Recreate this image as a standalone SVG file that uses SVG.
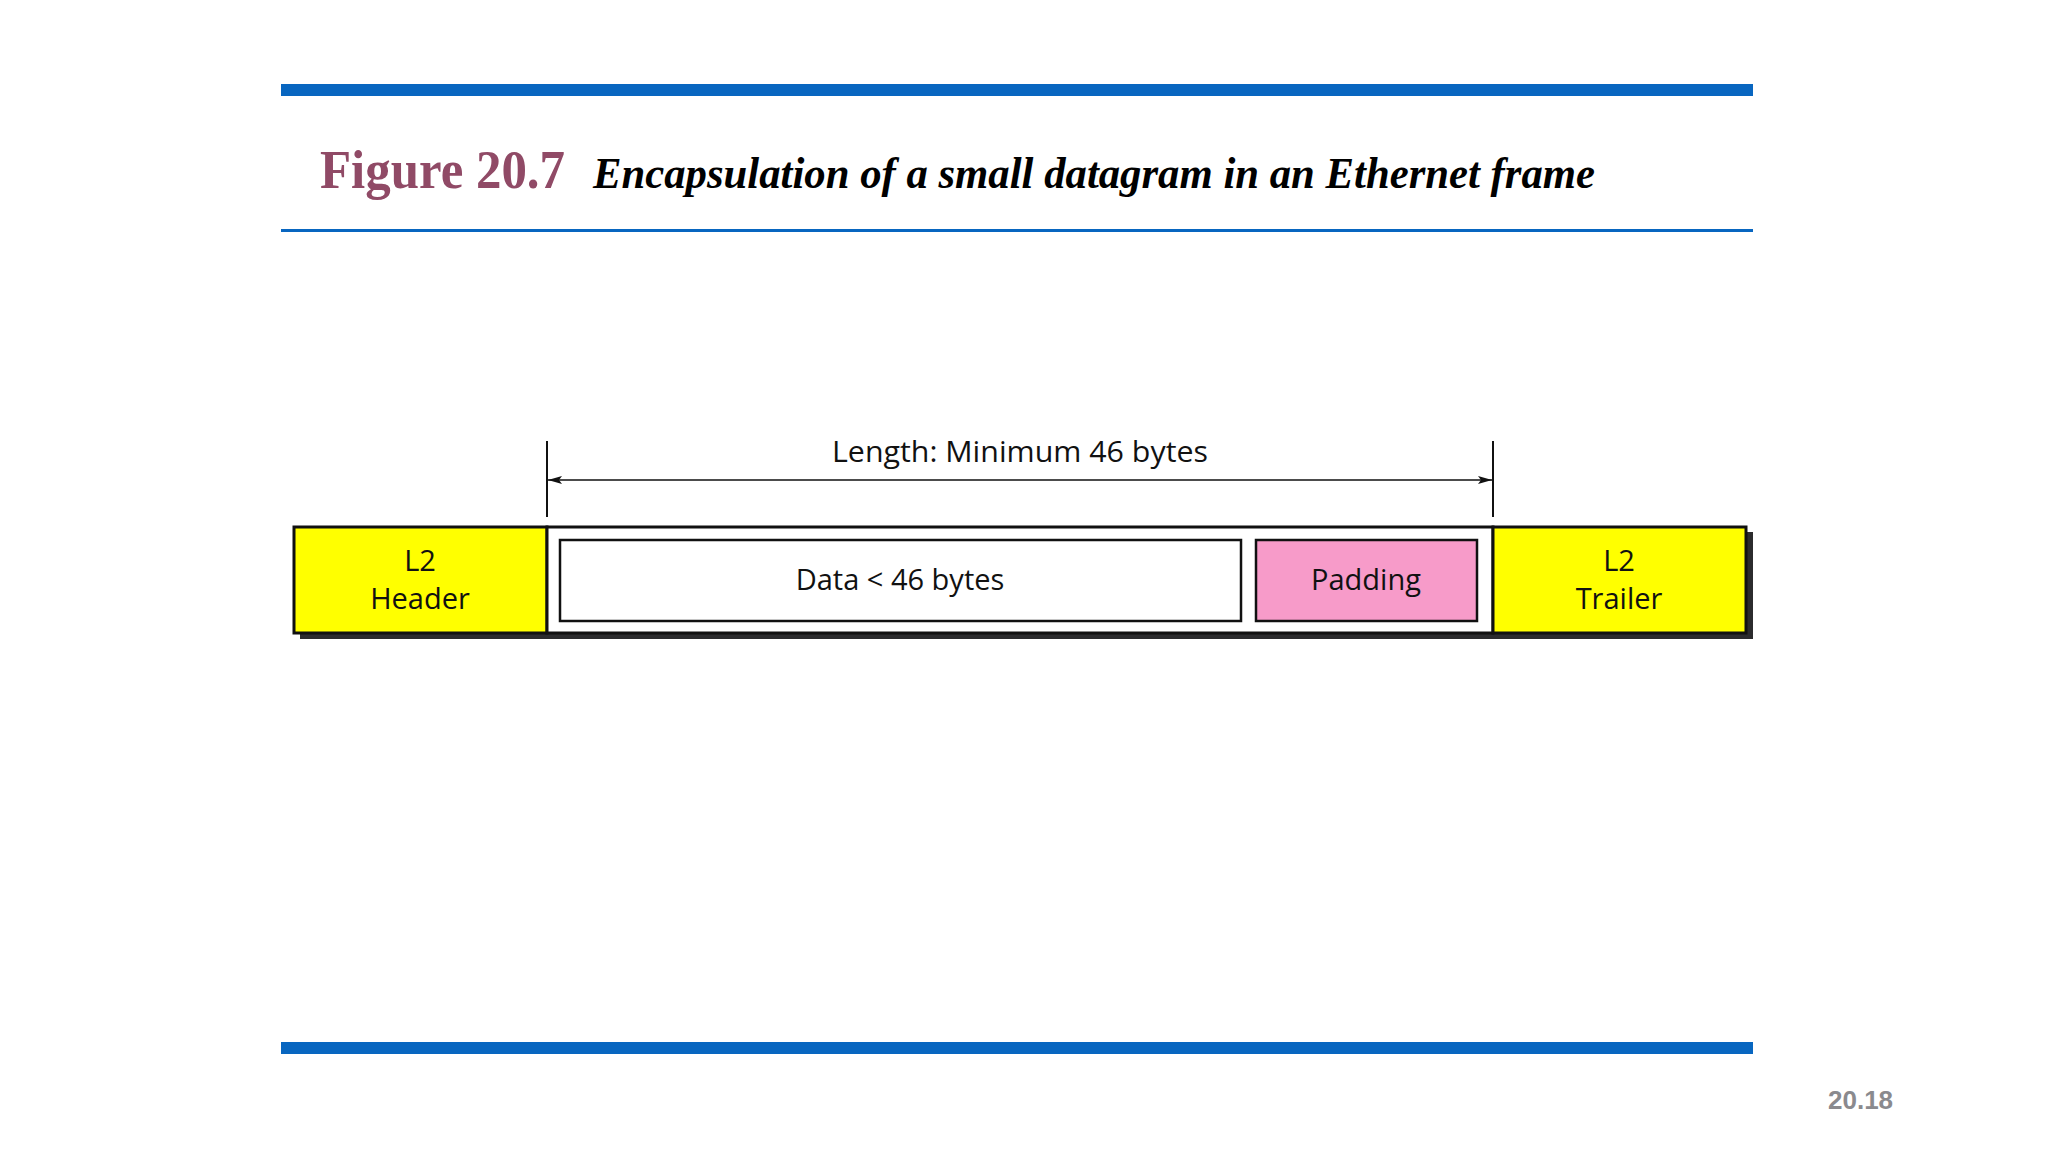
<svg xmlns="http://www.w3.org/2000/svg" width="2048" height="1152" viewBox="0 0 2048 1152">
  <style>
    .bar { fill: #0866C0; }
    .lbl { font-family: "Open Sans", "Noto Sans", sans-serif; font-size: 29px; fill: #111; text-anchor: middle; }
    .frame { stroke: #111; stroke-width: 3; }
    .inner { stroke: #111; stroke-width: 2.5; }
    .shadow { fill: #2b2b2d; }
  </style>
  <defs>
    <marker id="ah" viewBox="0 0 14 8" refX="14" refY="4" markerWidth="14" markerHeight="8" markerUnits="userSpaceOnUse" orient="auto-start-reverse">
      <path d="M0,0 L14,4 L0,8 L3,4 Z" fill="#111"/>
    </marker>
  </defs>
  <rect width="2048" height="1152" fill="#ffffff"/>

  <!-- slide decorations -->
  <rect class="bar" x="281" y="84" width="1472" height="12"/>
  <rect class="bar" x="281" y="229" width="1472" height="3"/>
  <rect class="bar" x="281" y="1042" width="1472" height="12"/>
  <text x="320" y="188" font-family="'Liberation Serif', serif" font-weight="bold" font-size="54" fill="#904A66" textLength="245" lengthAdjust="spacingAndGlyphs">Figure 20.7</text>
  <text x="593" y="188" font-family="'Liberation Serif', serif" font-weight="bold" font-style="italic" font-size="44" fill="#000" textLength="1002" lengthAdjust="spacingAndGlyphs">Encapsulation of a small datagram in an Ethernet frame</text>
  <text x="1828" y="1109" font-family="'Liberation Sans', Arial, sans-serif" font-weight="bold" font-size="26" fill="#8a8a8e">20.18</text>

  <!-- frame shadow -->
  <rect class="shadow" x="300" y="532" width="1453" height="107"/>

  <g id="header">
    <rect class="frame" x="294" y="527" width="253" height="106" fill="#FFFF00"/>
    <text class="lbl" x="420" y="571">L2</text>
    <text class="lbl" x="420" y="609">Header</text>
  </g>
  <g id="payload">
    <rect class="frame" x="547" y="527" width="946" height="106" fill="#ffffff"/>
  </g>
  <g id="data">
    <rect class="inner" x="560" y="540" width="681" height="81" fill="#ffffff"/>
    <text class="lbl" x="900" y="590">Data &lt; 46 bytes</text>
  </g>
  <g id="padding">
    <rect class="inner" x="1256" y="540" width="221" height="81" fill="#F79BC9"/>
    <text class="lbl" x="1366" y="590">Padding</text>
  </g>
  <g id="trailer">
    <rect class="frame" x="1493" y="527" width="253" height="106" fill="#FFFF00"/>
    <text class="lbl" x="1619" y="571">L2</text>
    <text class="lbl" x="1619" y="609">Trailer</text>
  </g>

  <g id="connectors">
    <line x1="547" y1="441" x2="547" y2="517" stroke="#111" stroke-width="2"/>
    <line x1="1493" y1="441" x2="1493" y2="517" stroke="#111" stroke-width="2"/>
    <line x1="548" y1="480" x2="1492" y2="480" stroke="#111" stroke-width="1.6" marker-start="url(#ah)" marker-end="url(#ah)"/>
    <text class="lbl" x="1020" y="462" font-size="30" textLength="376" lengthAdjust="spacingAndGlyphs">Length: Minimum 46 bytes</text>
  </g>
</svg>
